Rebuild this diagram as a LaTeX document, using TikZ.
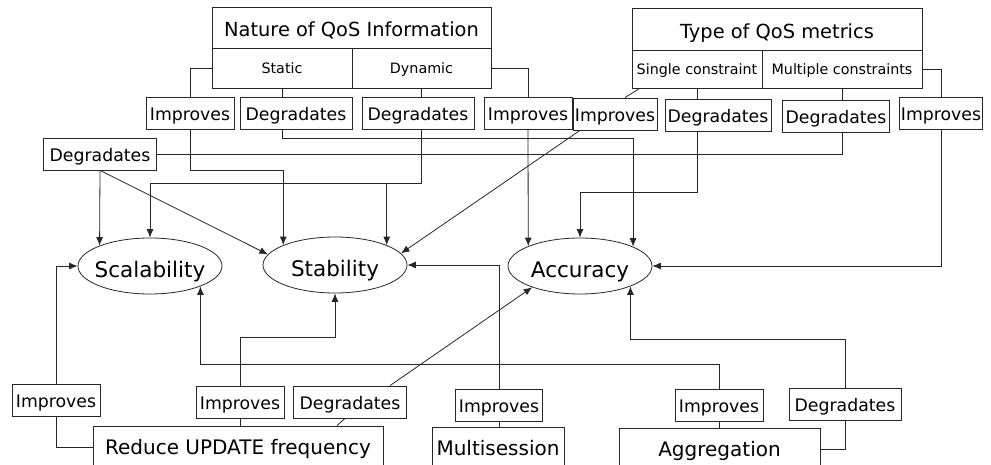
\documentclass[tikz,border=0pt]{standalone}
\usepackage{fontspec}
\setmainfont{DejaVu Sans}
\usetikzlibrary{arrows.meta,positioning,shapes}

\begin{document}
\begin{tikzpicture}[x=1pt, y=-1pt, line width=0.8pt, color=black!85, text=black,
	>={Latex[length=8.5pt,width=7pt]}]
	\tikzstyle{head}
	  =[draw, rectangle, inner sep=0pt, text height=19pt, text depth=0pt,
	  font=\fontsize{19.4}{22}\selectfont]
	\tikzstyle{kind}
	  =[draw, rectangle, inner sep=0pt, text height=10.4pt, text depth=0pt,
	  minimum height=40pt, font=\fontsize{14.3}{17}\selectfont]
	\tikzstyle{effect}
	  =[draw, rectangle, inner sep=0pt, text height=15.6pt, text depth=0pt,
	  minimum height=32pt, font=\fontsize{17.3}{20}\selectfont]
	\tikzstyle{goal}
	  =[draw, ellipse, inner xsep=-6pt, inner ysep=0pt, text height=22.6pt,
	  text depth=0pt, minimum width=144pt, minimum height=56pt,
	  font=\fontsize{21.5}{24}\selectfont]
	\tikzstyle{action}
	  =[draw, rectangle, inner sep=0pt, text height=14.6pt, text depth=0pt,
	  minimum height=42pt, font=\fontsize{20}{23}\selectfont]

	\useasboundingbox (0,0) rectangle (991,465);

	\node[head, minimum width=279pt, minimum height=41pt] (nature)
	  at (351.5,27.5) {Nature of QoS Information};
	\node[kind, minimum width=140pt] (static) at (282,68) {Static};
	\node[kind, minimum width=139pt] (dynamic) at (421.5,68) {Dynamic};

	\node[head, minimum width=290pt, minimum height=42pt] (type)
	  at (777,29) {Type of QoS metrics};
	\node[kind, minimum width=130pt, minimum height=38pt] (single)
	  at (697,69) {Single constraint};
	\node[kind, minimum width=160pt, minimum height=38pt] (multiple)
	  at (842,69) {Multiple constraints};

	\node[effect, minimum width=88pt] (impA) at (190,113) {Improves};
	\node[effect, minimum width=112pt] (degA) at (296,113) {Degradates};
	\node[effect, minimum width=112pt] (degB) at (418,113) {Degradates};
	\node[effect, minimum width=88pt] (impB) at (528,113) {Improves};
	\node[effect, minimum width=84pt] (impC) at (615,114) {Improves};
	\node[effect, minimum width=106pt] (degC) at (718,115) {Degradates};
	\node[effect, minimum width=107pt] (degD) at (836,116) {Degradates};
	\node[effect, minimum width=83pt] (impD) at (941,113) {Improves};
	\node[effect, minimum width=113pt] (degE) at (100,154) {Degradates};

	\node[goal] (scal) at (150,266) {Scalability};
	\node[goal] (stab) at (335,265) {Stability};
	\node[goal] (acc) at (580,266) {Accuracy};

	\node[effect, minimum width=88pt] (impE) at (56,400) {Improves};
	\node[effect, minimum width=88pt] (impF) at (240,402) {Improves};
	\node[effect, minimum width=113pt] (degF) at (350,402) {Degradates};
	\node[effect, minimum width=87pt] (impG) at (499,405) {Improves};
	\node[effect, minimum width=88pt] (impH) at (719,405) {Improves};
	\node[effect, minimum width=112pt] (degG) at (845,404) {Degradates};

	\node[action, minimum width=290pt] (reduce)
	  at (238,447) {Reduce UPDATE frequency};
	\node[action, minimum width=132pt] (multi) at (498,448) {Multisession};
	\node[action, minimum width=201pt] (aggr) at (719.5,449) {Aggregation};

	% nature of QoS information
	\draw (static.west) -| (impA.north);
	\draw (static.south) -- (static.south |- degA.north);
	\draw (dynamic.south) -- (dynamic.south |- degB.north);
	\draw (dynamic.east) -| (impB.north);
	\draw[->] (impA.south) -- ++(0,41) -| (stab.159.5);
	\draw[->] (degA.south -| static.south) -- ++(0,9) -| (acc.20.75);
	\draw[->] (degB.south -| dynamic.south) -- ++(0,54) -| (scal.north);
	\draw[->] (degB.south -| dynamic.south) -- ++(0,54) -| (stab.21.9);
	\draw[->] (impB.south) -- (acc.159.25);

	% type of QoS metrics
	\draw ([xshift=8pt]single.south west) -- ([xshift=10pt]impC.north);
	\draw (single.south) -- (single.south |- degC.north);
	\draw (multiple.south) -- (multiple.south |- degD.north);
	\draw (multiple.east) -| (impD.north);
	\draw[->] ([xshift=-35pt]impC.south) -- (stab.10.8);
	\draw[->] (degC.south -| single.south) -- ++(0,61) -| (acc.north);
	\draw (degD.south -| multiple.south) |- (degE.east);
	\draw[->] (degE.south) -- (scal.158.1);
	\draw[->] (degE.south) -- (stab.171.6);
	\draw[->] (impD.south) |- (acc.east);

	% mechanisms
	\draw (reduce.west) -| (impE.south);
	\draw[->] (impE.north) |- (scal.west);
	\draw (reduce.north -| impF.south) -- (impF.south);
	\draw[->] (impF.north) -- ++(0,-48) -| (stab.south);
	\draw ([xshift=99pt]reduce.north) -- ([xshift=-5pt]degF.south);
	\draw[->] ([xshift=40pt]degF.north) -- (acc.204);
	\draw (multi.north -| impG.south) -- (impG.south);
	\draw[->] (impG.north) |- (stab.east);
	\draw (aggr.north -| impH.south) -- (impH.south);
	\draw[->] (impH.north) -- ++(0,-24) -| (scal.338.8);
	\draw (aggr.east) -| (degG.south);
	\draw[->] (degG.north) -- ++(0,-48) -| (acc.338.5);
\end{tikzpicture}
\end{document}
